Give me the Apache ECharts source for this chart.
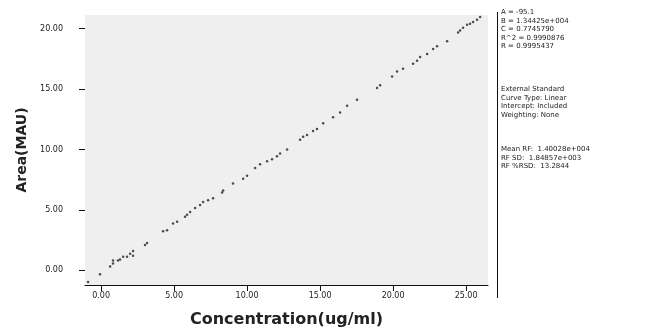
<!DOCTYPE html>
<html>
<head>
<meta charset="utf-8">
<script src="https://cdn.jsdelivr.net/npm/echarts@6/dist/echarts.min.js"></script>
<style>
  html, body { margin: 0; padding: 0; background: #fff; }
  #chart { width: 647px; height: 333px; }
</style>
</head>
<body>
<div id="chart"></div>
<script>
// calibration points: concentration (ug/ml) and area
const concentration = [
  -0.89, -0.07, 0.62, 0.82, 0.82, 1.16, 1.30, 1.51, 1.78, 1.99, 2.19, 2.19,
  3.01, 3.15, 4.25, 4.52, 4.93, 5.21, 5.75, 5.89, 6.10, 6.44, 6.78, 6.99,
  7.33, 7.67, 8.29, 8.36, 9.04, 9.73, 10.00, 10.55, 10.89, 11.37, 11.71, 12.05,
  12.26, 12.74, 13.63, 13.84, 14.11, 14.52, 14.79, 15.21, 15.89, 16.37, 16.85, 17.53,
  18.90, 19.11, 19.93, 20.27, 20.68, 21.37, 21.64, 21.85, 22.33, 22.74, 23.01, 23.70,
  24.45, 24.59, 24.79, 25.07, 25.27, 25.48, 25.75, 25.96
];
const area = [
  -0.97, -0.32, 0.32, 0.56, 0.81, 0.81, 0.89, 1.13, 1.13, 1.37, 1.21, 1.61,
  2.10, 2.26, 3.23, 3.31, 3.87, 4.03, 4.44, 4.60, 4.84, 5.16, 5.40, 5.65,
  5.81, 5.97, 6.45, 6.61, 7.18, 7.58, 7.82, 8.47, 8.79, 9.03, 9.19, 9.44,
  9.68, 10.00, 10.81, 11.05, 11.21, 11.53, 11.69, 12.18, 12.66, 13.06, 13.63, 14.11,
  15.08, 15.32, 16.05, 16.45, 16.69, 17.10, 17.34, 17.66, 17.90, 18.31, 18.55, 18.95,
  19.68, 19.84, 20.08, 20.32, 20.40, 20.56, 20.73, 20.97
];
const xTicks = [0, 5, 10, 15, 20, 25];
const yTicks = [0, 5, 10, 15, 20];
const fitLines = [
  "A = -95.1",
  "B = 1.34425e+004",
  "C = 0.7745790",
  "R^2 = 0.9990876",
  "R = 0.9995437"
];
const methodLines = [
  "External Standard",
  "Curve Type: Linear",
  "Intercept: Included",
  "Weighting: None"
];
const rfLines = [
  "Mean RF:  1.40028e+004",
  "RF SD:  1.84857e+003",
  "RF %RSD:  13.2844"
];

const chart = echarts.init(document.getElementById("chart"), null, { renderer: "canvas" });

const points = concentration.map((c, i) => [c, area[i]]);

// one text block of the stats panel on the right
const statsBlock = (lines, top) => ({
  type: "text",
  left: 501,
  top: top,
  style: {
    text: lines.join("\n"),
    fontFamily: "DejaVu Sans",
    fontSize: 7,
    lineHeight: 8.5,
    fill: "#222",
  },
});

const option = {
  animation: false,
  grid: {
    left: 85,
    right: 159,
    top: 15,
    bottom: 41,
    show: true,
    backgroundColor: "#efefef",
    borderWidth: 0,
  },
  xAxis: {
    type: "value",
    min: -1.1,
    max: 26.5,
    name: "Concentration(ug/ml)",
    nameLocation: "middle",
    nameGap: 27,
    nameTextStyle: { fontFamily: "DejaVu Sans", fontWeight: "bold", fontSize: 16, color: "#222" },
    axisLine: { show: true, onZero: false, lineStyle: { color: "#111", width: 1 } },
    axisTick: { show: true, customValues: xTicks, length: 6, lineStyle: { color: "#111" } },
    axisLabel: {
      customValues: xTicks,
      formatter: (v) => v.toFixed(2),
      fontFamily: "DejaVu Sans",
      fontSize: 8,
      color: "#222",
      margin: 7,
    },
    splitLine: { show: false },
  },
  yAxis: {
    type: "value",
    min: -1.21,
    max: 21.13,
    name: "Area(MAU)",
    nameLocation: "middle",
    nameGap: 54,
    nameRotate: 90,
    nameTextStyle: { fontFamily: "DejaVu Sans", fontWeight: "bold", fontSize: 14, color: "#222" },
    axisLine: { show: false, onZero: false },
    axisTick: { show: true, customValues: yTicks, length: 6, lineStyle: { color: "#111" } },
    axisLabel: {
      customValues: yTicks,
      formatter: (v) => v.toFixed(2),
      fontFamily: "DejaVu Sans",
      fontSize: 8,
      color: "#222",
      margin: 22,
    },
    splitLine: { show: false },
  },
  graphic: [
    {
      type: "line",
      shape: { x1: 497.5, y1: 12, x2: 497.5, y2: 298 },
      style: { stroke: "#111", lineWidth: 1 },
    },
    statsBlock(fitLines, 8),
    statsBlock(methodLines, 85),
    statsBlock(rfLines, 145),
  ],
  series: [
    {
      type: "scatter",
      data: points,
      symbol: "circle",
      symbolSize: 2.5,
      itemStyle: { color: "#222" },
    },
  ],
};

chart.setOption(option);
</script>
</body>
</html>
